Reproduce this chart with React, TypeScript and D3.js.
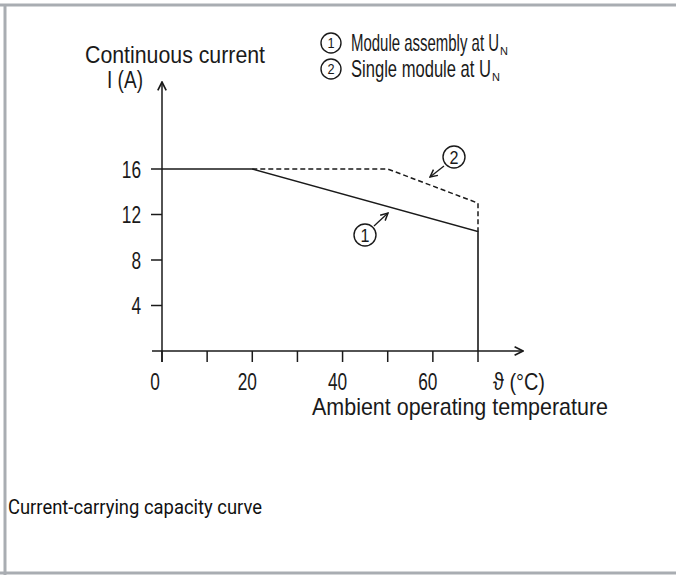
import React from 'react';
import * as d3 from 'd3';

// curve data
const assemblyTemp = [0, 20, 70, 70];
const assemblyCurrent = [16, 16, 10.5, 0];
const singleTemp = [20, 50, 70, 70];
const singleCurrent = [16, 16, 13, 10.5];
const yTickValues = [4, 8, 12, 16];
const xTickValues = [0, 10, 20, 30, 40, 50, 60, 70];
const xLabelValues = [0, 20, 40, 60];
const legendItems = ['Module assembly at U', 'Single module at U'];

const W = 676;
const H = 575;
const INK = '#1a1a1a';
const FONT = "'Liberation Sans', Arial, sans-serif";

const x = d3.scaleLinear().domain([0, 70]).range([162, 478]);
const y = d3.scaleLinear().domain([0, 16]).range([351, 169]);

const line = d3
  .line<[number, number]>()
  .x((d) => x(d[0]))
  .y((d) => y(d[1]));

const zip = (a: number[], b: number[]) => a.map((v, i) => [v, b[i]] as [number, number]);

// narrow text: squeeze horizontally like the condensed face in the datasheet
const Narrow = ({ x, y, size, anchor = 'start', sx = 0.72, children }: any) => (
  <text
    transform={`translate(${x},${y}) scale(${sx},1)`}
    textAnchor={anchor}
    fontSize={size}
    fontFamily={FONT}
    fill={INK}
  >
    {children}
  </text>
);

const Circled = ({ cx, cy, n, r = 10, size = 15 }: { cx: number; cy: number; n: number; r?: number; size?: number }) => (
  <g>
    <circle cx={cx} cy={cy} r={r} fill="none" stroke={INK} strokeWidth={1.4} />
    <Narrow x={cx} y={cy + size * 0.36} size={size} anchor="middle" sx={0.85}>
      {n}
    </Narrow>
  </g>
);

export default function App() {
  return (
    <div style={{ position: 'fixed', left: 0, top: 0 }}>
      <svg width={W} height={H} style={{ display: 'block', background: '#fff' }}>
        <defs>
          <marker id="arr" viewBox="0 0 10 10" refX="9" refY="5" markerWidth="7" markerHeight="7" orient="auto">
            <path d="M1,1 L9,5 L1,9" fill="none" stroke={INK} strokeWidth={1.6} />
          </marker>
        </defs>

        {/* frame */}
        <line x1={0} x2={W} y1={5} y2={5} stroke="#a9adb2" strokeWidth={3} />
        <line x1={5} x2={5} y1={4} y2={H} stroke="#a9adb2" strokeWidth={3} />
        <line x1={0} x2={W} y1={573} y2={573} stroke="#a9adb2" strokeWidth={3} />

        {/* axes */}
        <line x1={x(0)} x2={x(0)} y1={362} y2={82} stroke={INK} strokeWidth={1.5} markerEnd="url(#arr)" />
        <line x1={152} x2={523} y1={y(0)} y2={y(0)} stroke={INK} strokeWidth={1.5} markerEnd="url(#arr)" />

        {yTickValues.map((t) => (
          <g key={t}>
            <line x1={x(0) - 11} x2={x(0)} y1={y(t)} y2={y(t)} stroke={INK} strokeWidth={1.5} />
            <Narrow x={141} y={y(t) + 8.5} size={24} anchor="end">
              {t}
            </Narrow>
          </g>
        ))}
        {xTickValues.map((t) => (
          <line key={t} x1={x(t)} x2={x(t)} y1={y(0)} y2={y(0) + 11} stroke={INK} strokeWidth={1.5} />
        ))}
        {xLabelValues.map((t) => (
          <Narrow key={t} x={x(t) - (t === 0 ? 7 : 5)} y={390} size={24} anchor="middle">
            {t}
          </Narrow>
        ))}

        {/* curves */}
        <path d={line(zip(singleTemp, singleCurrent)) ?? ''} fill="none" stroke={INK} strokeWidth={1.5} strokeDasharray="5,3" />
        <path d={line(zip(assemblyTemp, assemblyCurrent)) ?? ''} fill="none" stroke={INK} strokeWidth={1.6} />

        {/* axis titles */}
        <text x={85} y={63} fontSize={24} fontFamily={FONT} fill={INK} textLength={180} lengthAdjust="spacingAndGlyphs">
          Continuous current
        </text>
        <text x={107} y={88} fontSize={23} fontFamily={FONT} fill={INK} textLength={36} lengthAdjust="spacingAndGlyphs">
          I (A)
        </text>
        <text x={493} y={390} fontSize={24} fontFamily={FONT} fill={INK} textLength={52} lengthAdjust="spacingAndGlyphs">
          ϑ (°C)
        </text>
        <text x={312} y={415} fontSize={24} fontFamily={FONT} fill={INK} textLength={296} lengthAdjust="spacingAndGlyphs">
          Ambient operating temperature
        </text>

        {/* legend */}
        {legendItems.map((label, i) => (
          <g key={label}>
            <Circled cx={331} cy={43 + i * 26} n={i + 1} />
            <text x={351} y={51 + i * 26} fontSize={24} fontFamily={FONT} fill={INK}>
              <tspan textLength={i === 0 ? 148 : 140} lengthAdjust="spacingAndGlyphs">
                {label}
              </tspan>
              <tspan fontSize={11} dy={4} dx={1}>
                N
              </tspan>
            </text>
          </g>
        ))}

        {/* callouts */}
        <Circled cx={365} cy={235} n={1} r={11} size={19} />
        <line x1={374} y1={226} x2={388} y2={213} stroke={INK} strokeWidth={1.3} markerEnd="url(#arr)" />
        <Circled cx={454} cy={157} n={2} r={11} size={19} />
        <line x1={444} y1={166} x2={430} y2={177} stroke={INK} strokeWidth={1.3} markerEnd="url(#arr)" />

        {/* caption */}
        <text x={8} y={514} fontSize={20} fontFamily="Roboto, 'Noto Sans', sans-serif" fill="#111" textLength={254} lengthAdjust="spacingAndGlyphs">
          Current-carrying capacity curve
        </text>
      </svg>
    </div>
  );
}
